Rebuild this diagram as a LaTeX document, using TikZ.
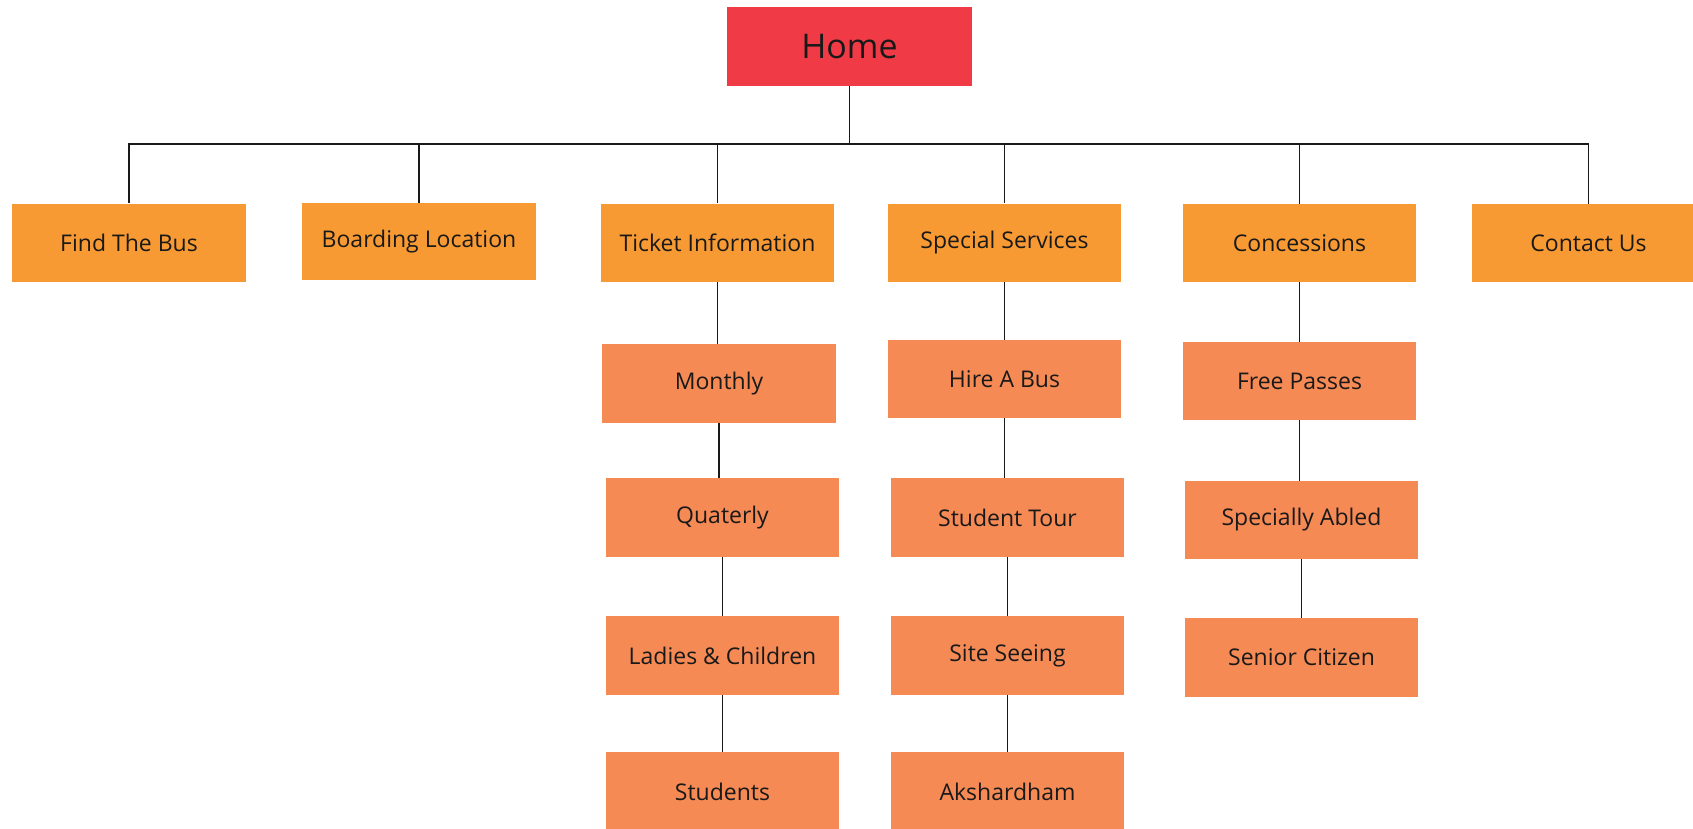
\documentclass[tikz,border=0pt]{standalone}
\usepackage{fontspec}
\setmainfont{Open Sans}
\definecolor{homered}{RGB}{240,58,70}
\definecolor{lvlone}{RGB}{248,154,51}
\definecolor{lvltwo}{RGB}{245,138,85}
\definecolor{txt}{RGB}{25,25,25}
\begin{document}
\begin{tikzpicture}[x=1pt,y=-1pt,
  homebox/.style={fill=homered, minimum width=245pt, minimum height=79pt, inner sep=0pt, text=txt, font=\fontsize{34}{38}\selectfont},
  topbox/.style={fill=lvlone, minimum width=233pt, minimum height=78pt, inner sep=0pt, text=txt, font=\fontsize{23}{27}\selectfont},
  subbox/.style={fill=lvltwo, minimum width=233pt, minimum height=79pt, inner sep=0pt, text=txt, font=\fontsize{23}{27}\selectfont},
  link/.style={draw=txt, line width=1.8pt}]
\useasboundingbox (0,0) rectangle (1693,828);
\node[homebox] (home) at (849.5,46.5) {Home};
\node[topbox, minimum width=234pt] (fb) at (129,242.5) {Find The Bus};
\node[topbox, minimum width=234pt, minimum height=77pt] (bl) at (419,241.5) {Boarding Location};
\node[topbox] (ti) at (717.5,242.5) {Ticket Information};
\node[topbox] (ss) at (1004.5,242.5) {Special Services};
\node[topbox] (co) at (1299.5,243) {Concessions};
\node[topbox] (cu) at (1588.5,243) {Contact Us};
\node[subbox, minimum width=234pt] (mo) at (719,383.5) {Monthly};
\node[subbox] (qu) at (722.5,517.5) {Quaterly};
\node[subbox] (la) at (722.5,655.5) {Ladies \& Children};
\node[subbox] (st) at (722.5,791.5) {Students};
\node[subbox, minimum height=78pt] (hb) at (1004.5,379) {Hire A Bus};
\node[subbox] (sto) at (1007.5,517.5) {Student Tour};
\node[subbox] (si) at (1007.5,655.5) {Site Seeing};
\node[subbox] (ak) at (1007.5,791.5) {Akshardham};
\node[subbox, minimum height=78pt] (fp) at (1299.5,381) {Free Passes};
\node[subbox, minimum height=78pt] (sa) at (1301.5,520) {Specially Abled};
\node[subbox] (sc) at (1301.5,657.5) {Senior Citizen};
\coordinate (bar) at (849.5,144);
\draw[link] (home.south) -- (bar);
\foreach \n in {fb,bl,ti,ss,co,cu} \draw[link] (bar) -| (\n.north);
\draw[link] (ti.south) -- (ti.south |- mo.north);
\draw[link] (mo.south) -- (mo.south |- qu.north);
\draw[link] (qu.south) -- (qu.south |- la.north);
\draw[link] (la.south) -- (la.south |- st.north);
\draw[link] (ss.south) -- (ss.south |- hb.north);
\draw[link] (hb.south) -- (hb.south |- sto.north);
\draw[link] (sto.south) -- (sto.south |- si.north);
\draw[link] (si.south) -- (si.south |- ak.north);
\draw[link] (co.south) -- (co.south |- fp.north);
\draw[link] (fp.south) -- (fp.south |- sa.north);
\draw[link] (sa.south) -- (sa.south |- sc.north);
\end{tikzpicture}
\end{document}
